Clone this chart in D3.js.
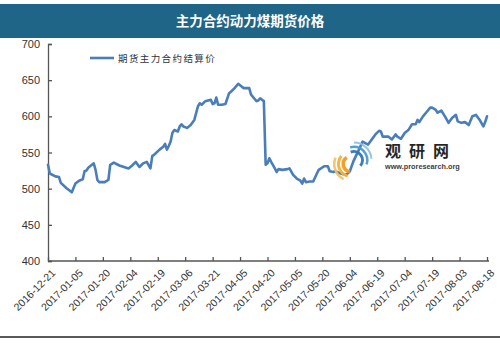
<!DOCTYPE html>
<html>
<head>
<meta charset="utf-8">
<script src="https://cdn.jsdelivr.net/npm/d3@7/dist/d3.min.js"></script>
<style>
  html, body { margin: 0; padding: 0; background: #fff; }
  svg { display: block; }
  text { font-family: "Liberation Sans", Arial, sans-serif; }
</style>
</head>
<body>
<svg id="chart" width="500" height="343"></svg>
<script>
// 主力合约动力煤期货价格 — 期货主力合约结算价（元/吨）
const chartTitle = "主力合约动力煤期货价格";
const seriesName = "期货主力合约结算价";

const dates = [
  "2016-12-21","2016-12-22","2016-12-25","2016-12-27","2016-12-28","2016-12-31",
  "2017-01-03","2017-01-05","2017-01-07","2017-01-09","2017-01-10","2017-01-11","2017-01-12",
  "2017-01-15","2017-01-16","2017-01-17","2017-01-18","2017-01-21","2017-01-23","2017-01-24",
  "2017-01-26","2017-01-29","2017-02-03","2017-02-05","2017-02-07","2017-02-09","2017-02-11",
  "2017-02-13","2017-02-15","2017-02-16","2017-02-17","2017-02-20","2017-02-22","2017-02-23",
  "2017-02-24","2017-02-25","2017-02-26","2017-02-27","2017-02-28","2017-03-02","2017-03-03",
  "2017-03-04","2017-03-05","2017-03-07","2017-03-09","2017-03-11","2017-03-13","2017-03-14",
  "2017-03-15","2017-03-17","2017-03-20","2017-03-21","2017-03-22","2017-03-23","2017-03-24",
  "2017-03-26","2017-03-28","2017-03-30","2017-03-31","2017-04-02","2017-04-04","2017-04-06",
  "2017-04-07","2017-04-10","2017-04-11","2017-04-13","2017-04-14","2017-04-15","2017-04-16",
  "2017-04-17","2017-04-18","2017-04-19","2017-04-20","2017-04-21","2017-04-22","2017-04-24",
  "2017-04-25","2017-04-26","2017-04-28","2017-05-01","2017-05-02","2017-05-04","2017-05-06",
  "2017-05-08","2017-05-09","2017-05-10","2017-05-11","2017-05-13","2017-05-15","2017-05-17",
  "2017-05-18","2017-05-21","2017-05-23","2017-05-24","2017-05-26","2017-05-27","2017-05-30",
  "2017-06-02","2017-06-04","2017-06-06","2017-06-09","2017-06-11","2017-06-14","2017-06-16",
  "2017-06-18","2017-06-20","2017-06-21","2017-06-22","2017-06-25","2017-06-27","2017-06-29",
  "2017-06-30","2017-07-02","2017-07-04","2017-07-06","2017-07-08","2017-07-10","2017-07-11",
  "2017-07-12","2017-07-14","2017-07-16","2017-07-18","2017-07-19","2017-07-21","2017-07-22",
  "2017-07-24","2017-07-26","2017-07-28","2017-07-30","2017-08-01","2017-08-02","2017-08-04",
  "2017-08-06","2017-08-08","2017-08-10","2017-08-12","2017-08-14","2017-08-16","2017-08-17",
  "2017-08-18"
];

const prices = [
  533,521,517,516,508,501,
  495,507,511,513,524,525,529,
  535,526,512,509,509,512,533,
  536,532,528,532,537,530,535,
  537,528,545,547,554,558,562,
  554,559,565,577,581,579,586,
  589,586,584,588,595,614,618,
  616,621,623,617,618,626,616,
  616,617,632,634,639,645,641,
  639,639,630,624,621,622,625,
  623,621,533,535,542,537,528,
  523,527,526,527,528,519,514,
  511,507,514,509,510,510,521,
  526,531,531,524,523,524,521,
  519,524,538,554,565,561,568,
  575,580,579,572,572,568,575,
  572,569,577,581,589,589,595,
  592,600,606,612,612,609,605,
  608,600,591,598,602,593,591,
  592,588,600,602,595,586,592,
  600
];

const tickLabels = [
  "2016-12-21","2017-01-05","2017-01-20","2017-02-04","2017-02-19","2017-03-06",
  "2017-03-21","2017-04-05","2017-04-20","2017-05-05","2017-05-20","2017-06-04",
  "2017-06-19","2017-07-04","2017-07-19","2017-08-03","2017-08-18"
];
const yTicks = [400, 450, 500, 550, 600, 650, 700];

const parse = d3.utcParse("%Y-%m-%d");
const data = dates.map((d, i) => ({ date: parse(d), value: prices[i] }));
const tickDates = tickLabels.map(parse);

const svg = d3.select("#chart");
const W = 500, H = 343;
const plot = { left: 48, right: 487, top: 44, bottom: 261 };

// title bar
svg.append("rect").attr("x", 0).attr("y", 4).attr("width", W).attr("height", 34)
  .attr("fill", "#1e6587");
svg.append("text").attr("x", W / 2).attr("y", 26)
  .attr("text-anchor", "middle").attr("fill", "#fff")
  .attr("font-size", 13.5).attr("font-weight", "bold")
  .style("font-family", "'Noto Sans CJK SC', sans-serif")
  .text(chartTitle);

const x = d3.scaleUtc()
  .domain([tickDates[0], tickDates[tickDates.length - 1]])
  .range([plot.left, plot.right]);
const y = d3.scaleLinear().domain([400, 700]).range([plot.bottom, plot.top]);

// y axis
const yAxis = svg.append("g").attr("transform", `translate(${plot.left},0)`)
  .call(d3.axisLeft(y).tickValues(yTicks).tickSize(-4).tickPadding(8)
    .tickFormat(d3.format("d")));
yAxis.select(".domain").attr("stroke", "#555").attr("stroke-width", 1.3);
yAxis.selectAll(".tick line").attr("stroke", "#555").attr("stroke-width", 1.3);
yAxis.selectAll(".tick text").attr("fill", "#333").attr("font-size", 11)
  .style("font-family", "'Liberation Sans', Arial, sans-serif");

// x axis
const xAxis = svg.append("g").attr("transform", `translate(0,${plot.bottom})`)
  .call(d3.axisBottom(x).tickValues(tickDates).tickSize(-4)
    .tickFormat((d, i) => tickLabels[i]));
xAxis.select(".domain").attr("stroke", "#555").attr("stroke-width", 1.3)
  .attr("d", `M${plot.left},0H${plot.right + 2}`);
xAxis.selectAll(".tick line").attr("stroke", "#555").attr("stroke-width", 1.3);
xAxis.selectAll(".tick text")
  .attr("fill", "#333").attr("font-size", 10.5)
  .style("font-family", "'Liberation Sans', Arial, sans-serif")
  .attr("text-anchor", "end")
  .attr("transform", "translate(5,10) rotate(-45)")
  .attr("x", 0).attr("y", 0).attr("dy", "0.35em");

// price line
const line = d3.line().x(d => x(d.date)).y(d => y(d.value));
svg.append("path").datum(data)
  .attr("fill", "none").attr("stroke", "#4a7ebb").attr("stroke-width", 2.6)
  .attr("stroke-linejoin", "round").attr("stroke-linecap", "round")
  .attr("d", line);

// legend
svg.append("line").attr("x1", 90).attr("x2", 114).attr("y1", 58).attr("y2", 58)
  .attr("stroke", "#4a7ebb").attr("stroke-width", 2.6);
svg.append("text").attr("x", 118).attr("y", 62)
  .attr("fill", "#333").attr("font-size", 9.5).attr("letter-spacing", 1.4)
  .style("font-family", "'Noto Sans CJK SC', sans-serif")
  .text(seriesName);

// watermark
const wm = svg.append("g").attr("opacity", 0.95);
const arc = d3.arc();
const cx = 354, cy = 160;
[[7, 10, -0.4, 2.3, "#2f79b8"], [12, 14.5, -0.3, 1.9, "#4c9ad0"], [16.5, 18.5, 0.0, 1.5, "#8cc3e6"]]
  .forEach(([r0, r1, a0, a1, c]) => {
    wm.append("path").attr("transform", `translate(${cx},${cy})`)
      .attr("d", arc({ innerRadius: r0, outerRadius: r1, startAngle: a0, endAngle: a1 }))
      .attr("fill", c);
  });
[[6, 9.5, 3.3, 5.7, "#f39a1e"], [11, 14, 3.4, 5.4, "#f7b23a"], [15.5, 18, 3.6, 5.1, "#f5c16a"]]
  .forEach(([r0, r1, a0, a1, c]) => {
    wm.append("path").attr("transform", `translate(${cx - 3},${cy + 4})`)
      .attr("d", arc({ innerRadius: r0, outerRadius: r1, startAngle: a0, endAngle: a1 }))
      .attr("fill", c);
  });
wm.append("text").attr("x", 385).attr("y", 157)
  .attr("fill", "#1a1a1a").attr("font-size", 16).attr("font-weight", "bold")
  .attr("letter-spacing", 8)
  .style("font-family", "'Noto Sans CJK SC', sans-serif")
  .text("观研网");
wm.append("text").attr("x", 385).attr("y", 169)
  .attr("fill", "#333").attr("font-size", 7.3).attr("font-weight", "bold")
  .text("www.proresearch.org");

// bottom rule
svg.append("line").attr("x1", 0).attr("x2", W).attr("y1", 337).attr("y2", 337)
  .attr("stroke", "#222").attr("stroke-width", 1.5);
</script>
</body>
</html>
